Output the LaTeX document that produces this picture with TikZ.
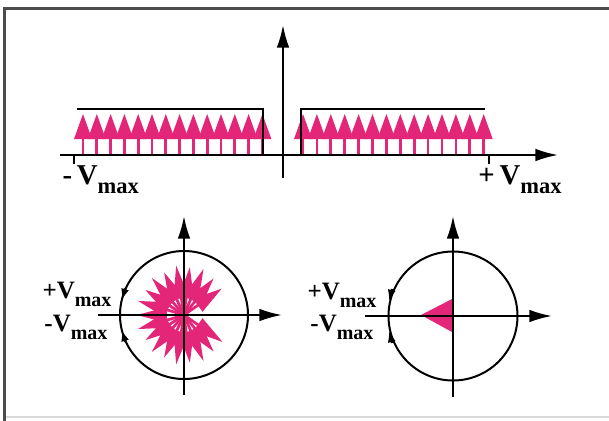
\documentclass[tikz,border=0pt]{standalone}
\usepackage{fontspec}
\setmainfont{Liberation Serif}
\usetikzlibrary{arrows.meta,calc,positioning}
\definecolor{spike}{RGB}{228,38,121}
\tikzset{>={Latex[length=9pt,width=5pt]}}
\tikzset{
  axis/.style={->, line width=0.8pt},
  stem/.style={draw=spike, line width=1.1pt},
  head/.style={fill=spike},
  bigtag/.style={font=\fontsize{11.5}{13}\selectfont\bfseries, inner sep=0pt},
  smalltag/.style={font=\fontsize{10}{12}\selectfont\bfseries, inner sep=0pt},
  tinytip/.style={-{Latex[length=4.5pt,width=3.2pt]}, line width=0.8pt},
}
\newcommand{\vmaxtag}[2]{#1V\raisebox{-0.32em}{\fontsize{#2}{#2}\selectfont max}}

\begin{document}
\begin{tikzpicture}[x=0.4pt, y=-0.4pt]
  \useasboundingbox (0,0) rectangle (609,421);
  % frame
  \draw[gray!30, line width=0.6pt] (5,417) -- (609,417);
  \draw[gray!60!black, line width=1.2pt] (5,421) -- (5,8) -- (609,8);

  % top: velocity spectrum
  \coordinate (o) at (283,155);
  \foreach \i in {0,...,13} {
    \pgfmathsetmacro\xl{83+13.8*\i}
    \pgfmathsetmacro\xr{303+13.9*\i}
    \foreach \x in {\xl,\xr} {
      \draw[stem] (\x,155) -- (\x,136);
      \fill[head] ({\x-9},139) -- (\x,114) -- ({\x+9},139) -- cycle;
    }
  }
  \draw[line width=0.7pt] (77,109) -- (263,109) -- (263,155);
  \draw[line width=0.7pt] (301,155) -- (301,109) -- (485,109);
  \draw[axis] (60,155) -- (558,155);
  \draw[axis] (283,178) -- (283,25);
  \draw[line width=0.7pt] (74,155) -- (74,164);
  \draw[line width=0.7pt] (489,155) -- (489,164);
  \node[bigtag, anchor=base west] (vneg) at (62,184) {\vmaxtag{-\,}{9}};
  \node[bigtag, anchor=base west] (vpos) at (478,184) {\vmaxtag{+\,}{9}};

  % bottom left: spread phasor
  \coordinate (cl) at (184,315);
  \draw[line width=0.8pt] (cl) circle[radius=64*0.4pt];
  \foreach \a/\r in {35/46,51/47,67/50,83/48,99/50,115/47,131/49,147/46,163/48,
                     180/47,197/48,213/46,229/49,245/47,261/50,277/48,293/50,309/47,325/47} {
    \begin{scope}[shift={(cl)}, rotate=\a]
      \draw[stem] (0,0) -- (19,0);
      \fill[head] (17,-8) -- (\r,0) -- (17,8) -- cycle;
    \end{scope}
  }
  \draw[axis] (98,315) -- (282,315);
  \draw[axis] (184,395) -- (184,216);
  \draw[tinytip] (125.5,288) -- (121.8,300);
  \draw[tinytip] (125.5,342) -- (121.8,330);
  \node[smalltag, anchor=base east] (lpos) at (112,298) {\vmaxtag{+}{8}};
  \node[smalltag, anchor=base east] (lneg) at (108,331) {\vmaxtag{-}{8}};

  % bottom right: single phasor
  \coordinate (cr) at (453,316);
  \draw[line width=0.8pt] (cr) circle[radius=64.5*0.4pt];
  \fill[head] (452,299) -- (421,315) -- (452,332) -- cycle;
  \draw[axis] (365,316) -- (552,316);
  \draw[axis] (453,397) -- (453,216);
  \draw[tinytip] (392,289) -- (389,301);
  \draw[tinytip] (392,343) -- (389,331);
  \node[smalltag, anchor=base east] (rpos) at (377,299) {\vmaxtag{+}{8}};
  \node[smalltag, anchor=base east] (rneg) at (374,331) {\vmaxtag{-}{8}};
\end{tikzpicture}
\end{document}
